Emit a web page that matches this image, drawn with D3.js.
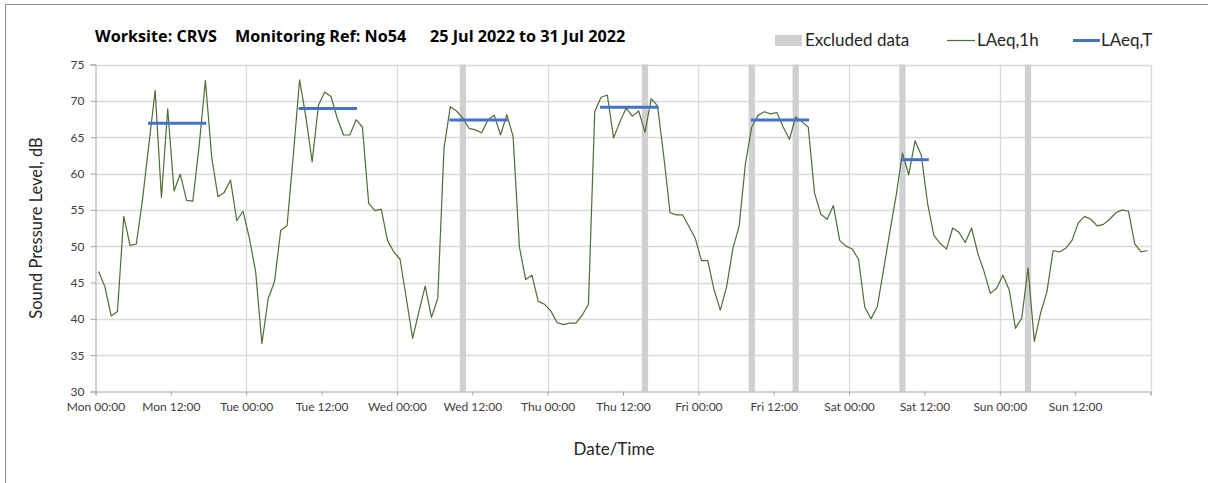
<!DOCTYPE html>
<html><head><meta charset="utf-8">
<script src="https://cdn.jsdelivr.net/npm/d3@7"></script>
<style>
html,body{margin:0;padding:0;background:#fff;}
svg{display:block;font-family:Lato,"Open Sans",sans-serif;}
</style></head>
<body>
<svg id="c" width="1208" height="483"></svg>
<script>
// ---- data ----
const hourlyLevels = [
46.5,44.4,40.4,41.0,54.1,50.1,50.3,56.5,64.0,71.4,56.7,68.9,57.6,59.9,56.3,56.2,63.8,72.8,62.3,56.8,57.4,59.1,53.5,54.8,
51.1,46.5,36.6,42.8,45.1,52.2,52.8,62.5,72.9,67.8,61.6,69.4,71.2,70.6,67.6,65.3,65.3,67.4,66.4,55.9,54.9,55.1,50.8,49.2,
48.2,42.8,37.3,41.0,44.5,40.2,42.8,63.5,69.2,68.6,67.6,66.2,66.0,65.6,67.4,68.0,65.3,68.1,65.1,49.9,45.4,46.0,42.4,42.0,
41.1,39.5,39.2,39.4,39.4,40.5,42.0,68.5,70.5,70.8,64.9,67.1,69.0,67.9,68.6,65.7,70.3,69.3,62.3,54.6,54.3,54.3,52.7,51.1,
48.0,48.0,44.0,41.2,44.4,49.7,52.8,61.4,66.4,68.0,68.5,68.2,68.4,66.4,64.7,67.8,67.1,66.4,57.3,54.4,53.7,55.6,50.8,50.0,
49.6,48.2,41.6,40.0,41.7,46.8,52.0,57.0,62.8,59.8,64.5,62.5,55.9,51.5,50.4,49.6,52.5,51.9,50.5,52.5,49.0,46.5,43.5,44.2,
46.0,44.0,38.7,40.1,47.0,36.9,40.8,43.7,49.4,49.2,49.7,50.8,53.2,54.1,53.7,52.8,53.0,53.7,54.6,55.0,54.8,50.3,49.2,49.4
];
const periodStart = [8.35, 32.35, 56.35, 80.35, 104.35, 128.35];
const periodEnd   = [17.65, 41.65, 65.65, 89.65, 113.65, 132.7];
const periodLevel = [66.9, 68.95, 67.35, 69.1, 67.35, 61.9];
const excludedStart = [58, 87, 104, 111, 128, 148];
const tickHours = [0,12,24,36,48,60,72,84,96,108,120,132,144,156,168];
const tickLabels = ["Mon 00:00","Mon 12:00","Tue 00:00","Tue 12:00","Wed 00:00","Wed 12:00","Thu 00:00","Thu 12:00","Fri 00:00","Fri 12:00","Sat 00:00","Sat 12:00","Sun 00:00","Sun 12:00",""];
const yTicks = [30,35,40,45,50,55,60,65,70,75];

// ---- layout ----
const svg = d3.select("#c");
const L = 95.5, R = 1150.5, T = 64.5, B = 391.5;
const x = d3.scaleLinear().domain([0,168]).range([L,R]);
const y = d3.scaleLinear().domain([30,75]).range([B,T]);

// frame
svg.append("path").attr("d","M5.5,483 V4.5 H1208").attr("fill","none").attr("stroke","#8c8c8c").attr("stroke-width",1);

// horizontal gridlines
svg.append("g").selectAll("line").data(yTicks.filter(d=>d>30)).join("line")
  .attr("x1",L).attr("x2",R).attr("y1",d=>Math.round(y(d))+0.5).attr("y2",d=>Math.round(y(d))+0.5)
  .attr("stroke","#d9d9d9").attr("stroke-width",1.3);
// vertical gridlines every 24h
svg.append("g").selectAll("line").data(tickHours.filter(h=>h%24===0 && h>0)).join("line")
  .attr("x1",d=>Math.round(x(d))+0.5).attr("x2",d=>Math.round(x(d))+0.5).attr("y1",T).attr("y2",B)
  .attr("stroke","#d9d9d9").attr("stroke-width",1.3);

// excluded bars
svg.append("g").selectAll("rect").data(excludedStart).join("rect")
  .attr("x",d=>x(d)).attr("width",d=>x(d+1)-x(d)).attr("y",T).attr("height",B-T)
  .attr("fill","#d0d0d0");

// axes
const yAxis = d3.axisLeft(y).tickValues(yTicks).tickSize(5).tickPadding(6);
const gy = svg.append("g").attr("transform",`translate(${L},0)`).call(yAxis);
gy.select(".domain").attr("stroke","#a6a6a6");
gy.selectAll(".tick line").attr("stroke","#a6a6a6");
gy.selectAll("text").attr("font-size",12).attr("fill","#404040").attr("font-family","Lato, sans-serif");

const xAxis = d3.axisBottom(x).tickValues(tickHours).tickFormat((d,i)=>tickLabels[i]).tickSize(4).tickPadding(7);
const gx = svg.append("g").attr("transform",`translate(0,${B})`).call(xAxis);
gx.select(".domain").attr("stroke","#a6a6a6");
gx.selectAll(".tick line").attr("stroke","#a6a6a6");
gx.selectAll("text").attr("font-size",12).attr("fill","#404040").attr("font-family","Lato, sans-serif");

// hourly line
const line = d3.line().x((d,i)=>x(i+0.5)).y(d=>y(d));
svg.append("path").datum(hourlyLevels).attr("d",line)
  .attr("fill","none").attr("stroke","#4d6e35").attr("stroke-width",1.2).attr("stroke-linejoin","round");

// LAeq,T segments
svg.append("g").selectAll("line").data(periodLevel).join("line")
  .attr("x1",(d,i)=>x(periodStart[i])).attr("x2",(d,i)=>x(periodEnd[i]))
  .attr("y1",d=>y(d)).attr("y2",d=>y(d))
  .attr("stroke","#4472c4").attr("stroke-width",3);

// title
const title = svg.append("g").attr("font-weight","bold").attr("font-size",16.2).attr("fill","#000")
  .attr("font-family","'Open Sans', sans-serif");
title.append("text").attr("x",95).attr("y",41.5).text("Worksite: CRVS");
title.append("text").attr("x",235).attr("y",41.5).text("Monitoring Ref: No54");
title.append("text").attr("x",430).attr("y",41.5).text("25 Jul 2022 to 31 Jul 2022");

// legend
const lg = svg.append("g").attr("font-size",17).attr("fill","#262626");
lg.append("rect").attr("x",775).attr("y",35).attr("width",27).attr("height",11).attr("fill","#d0d0d0");
lg.append("text").attr("x",805).attr("y",46).text("Excluded data");
lg.append("line").attr("x1",947).attr("x2",975).attr("y1",40.5).attr("y2",40.5).attr("stroke","#4d6e35").attr("stroke-width",1.2);
lg.append("text").attr("x",977).attr("y",46).text("LAeq,1h");
lg.append("line").attr("x1",1073).attr("x2",1100).attr("y1",40.5).attr("y2",40.5).attr("stroke","#4472c4").attr("stroke-width",3);
lg.append("text").attr("x",1101).attr("y",46).text("LAeq,T");

// axis titles
svg.append("text").attr("transform","translate(42,228) rotate(-90)").attr("text-anchor","middle")
  .attr("font-size",16.5).attr("fill","#262626").text("Sound Pressure Level, dB");
svg.append("text").attr("x",614).attr("y",455).attr("text-anchor","middle")
  .attr("font-size",17).attr("fill","#262626").text("Date/Time");
</script>
</body></html>
